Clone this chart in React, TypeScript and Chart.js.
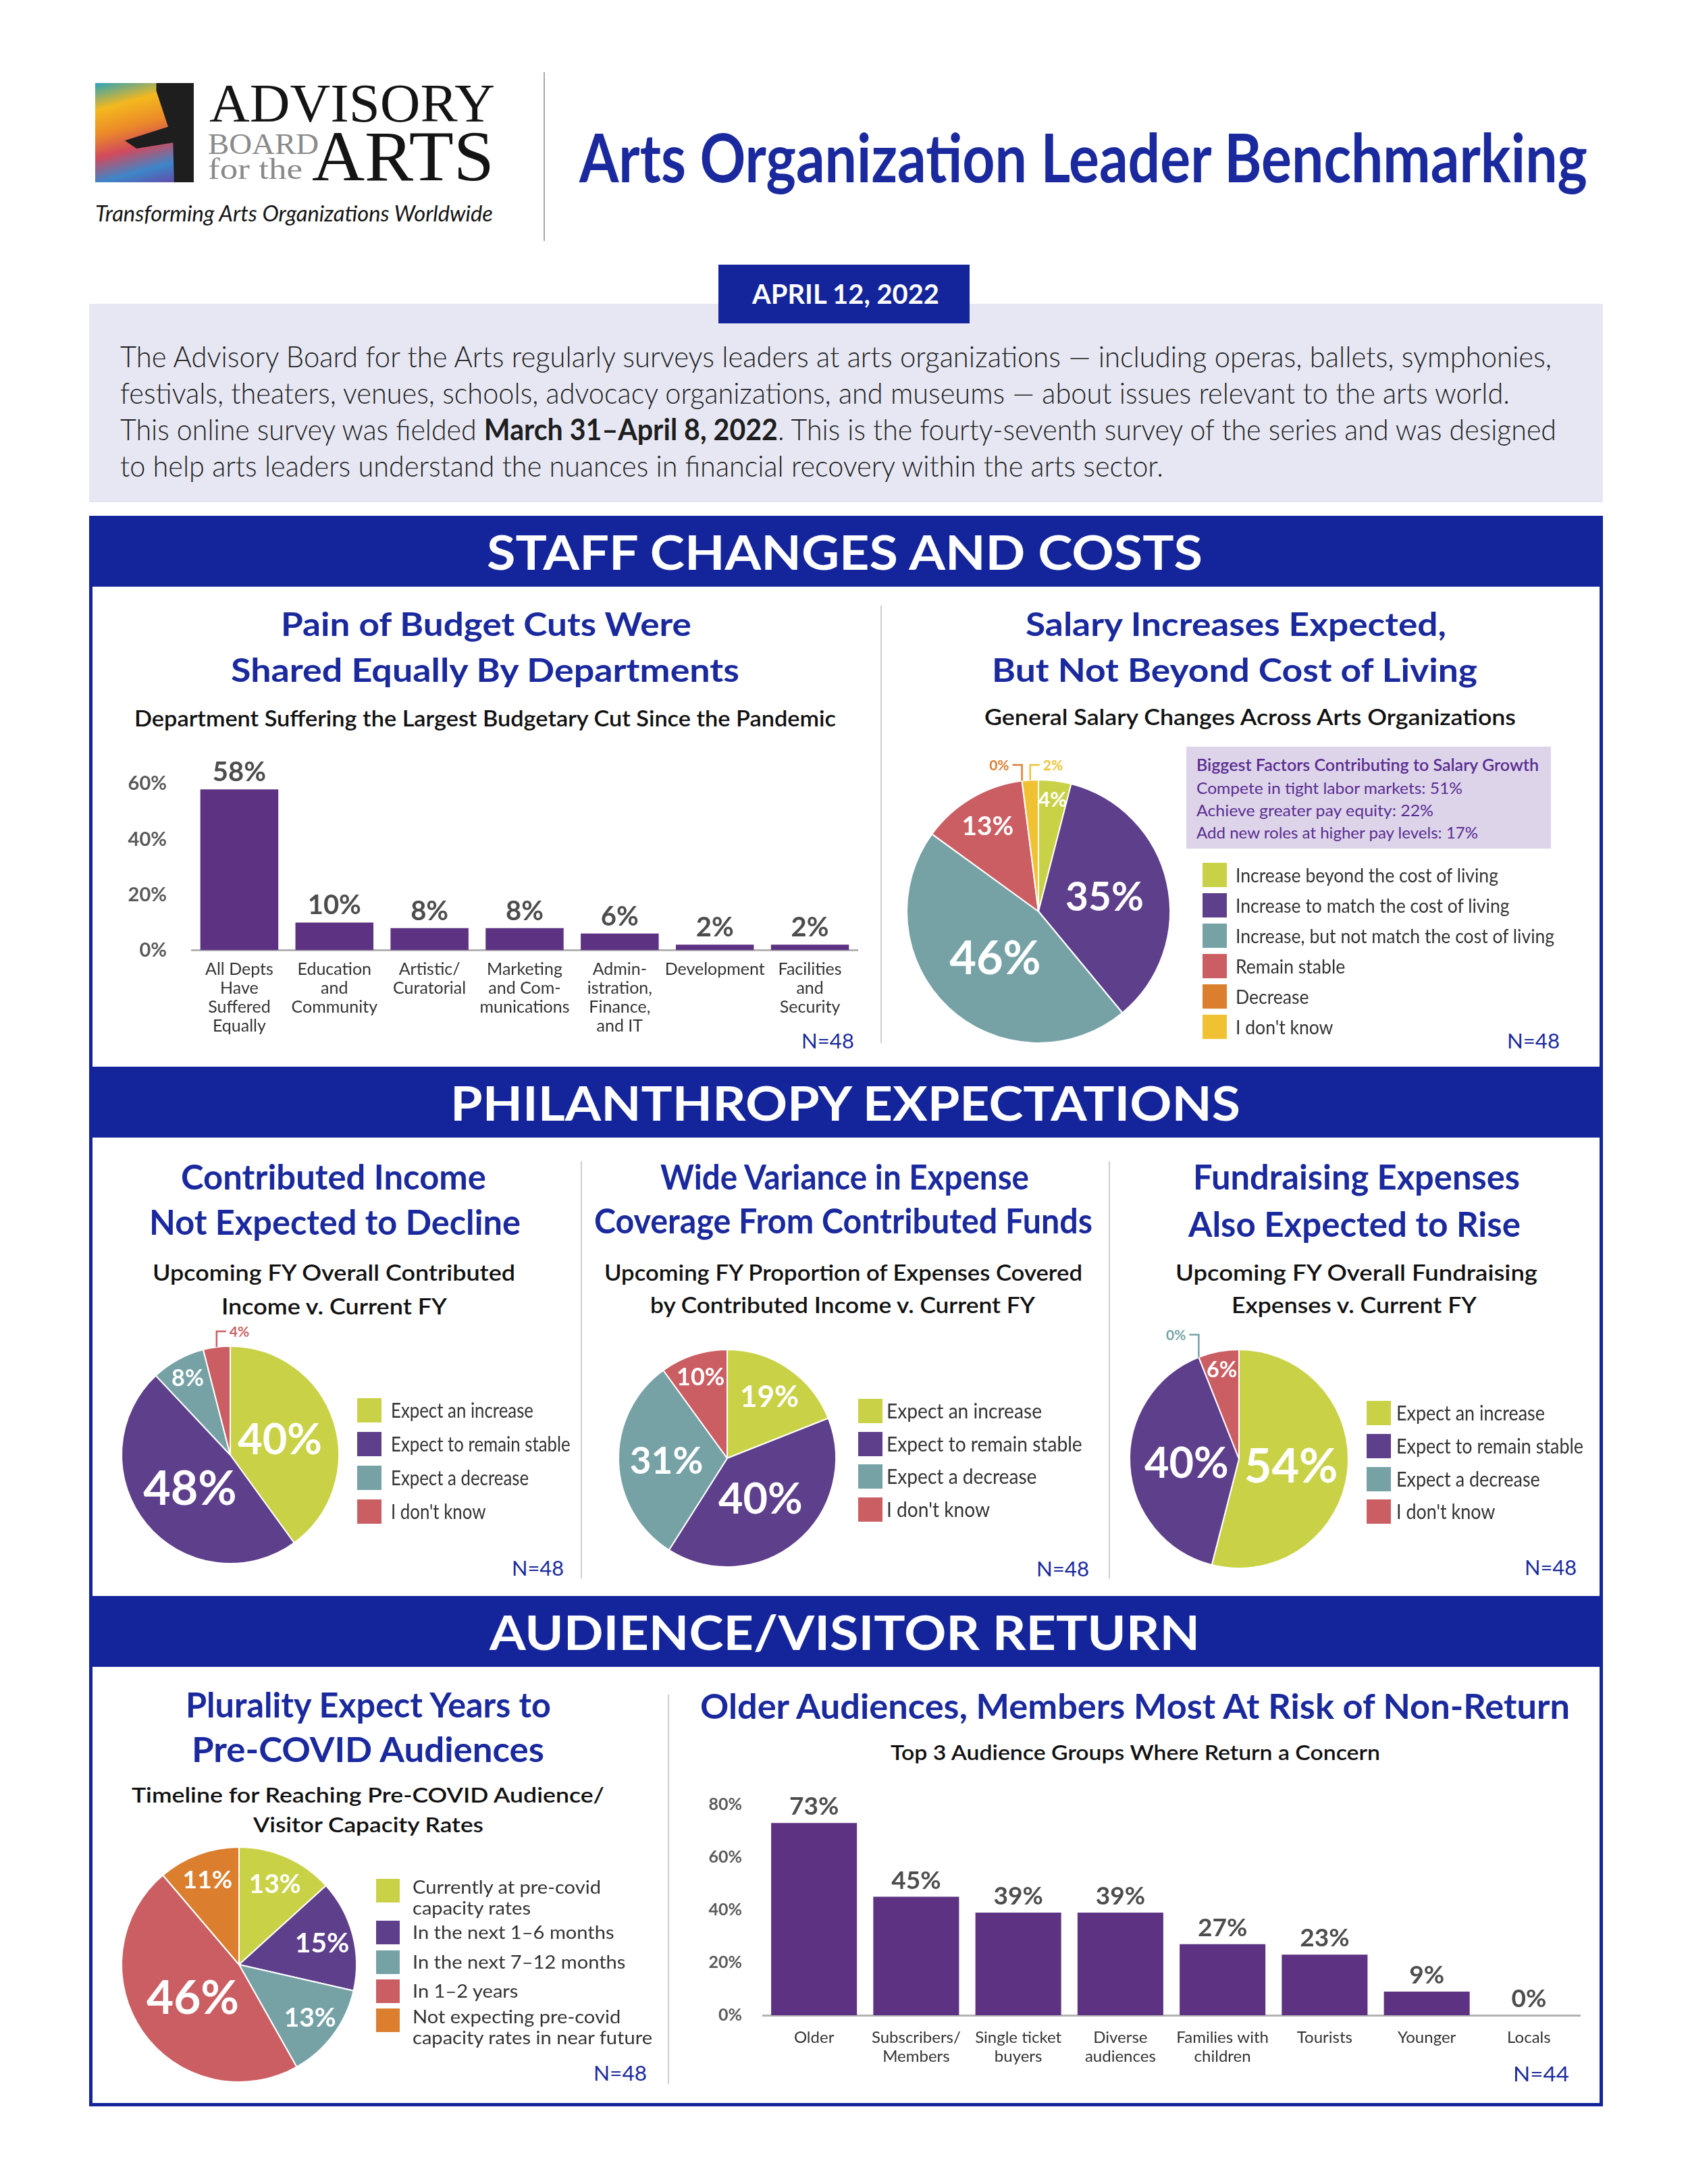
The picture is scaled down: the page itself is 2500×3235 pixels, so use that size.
import React, { useEffect, useLayoutEffect, useRef } from 'react';
import { Chart, registerables } from 'chart.js';

Chart.register(...registerables);

const SANS = 'Lato, "Noto Sans", "DejaVu Sans", sans-serif';
const SERIF = '"Liberation Serif", "DejaVu Serif", serif';

const NAVY = '#14259b';
const TITLE = '#1a2a9e';
const BARC = '#5e3283';
const LIME = '#c9d246';
const PURPLE = '#5e3f8b';
const TEAL = '#76a2a6';
const RED = '#cb5e63';
const ORANGE = '#db7f2e';
const YELLOW = '#f0c233';

// ---------------- data ----------------
const deptCategories = [
  ['All Depts', 'Have', 'Suffered', 'Equally'],
  ['Education', 'and', 'Community'],
  ['Artistic/', 'Curatorial'],
  ['Marketing', 'and Com-', 'munications'],
  ['Admin-', 'istration,', 'Finance,', 'and IT'],
  ['Development'],
  ['Facilities', 'and', 'Security'],
];
const deptValues = [58, 10, 8, 8, 6, 2, 2];
const deptTicks = [0, 20, 40, 60];

const salaryLabels = [
  'Increase beyond the cost of living',
  'Increase to match the cost of living',
  'Increase, but not match the cost of living',
  'Remain stable',
  'Decrease',
  "I don't know",
];
const salaryValues = [4, 35, 46, 13, 0, 2];
const salaryColors = [LIME, PURPLE, TEAL, RED, ORANGE, YELLOW];

const salaryFactorTitle = 'Biggest Factors Contributing to Salary Growth';
const salaryFactorLabels = ['Compete in tight labor markets', 'Achieve greater pay equity', 'Add new roles at higher pay levels'];
const salaryFactorValues = [51, 22, 17];

const expectLabels = ['Expect an increase', 'Expect to remain stable', 'Expect a decrease', "I don't know"];
const expectColors = [LIME, PURPLE, TEAL, RED];
const contributedValues = [40, 48, 8, 4];
const coverageValues = [19, 40, 31, 10];
const fundraisingValues = [54, 40, 0, 6];

const timelineLabels = [
  ['Currently at pre-covid', 'capacity rates'],
  ['In the next 1\u20136 months'],
  ['In the next 7\u201312 months'],
  ['In 1\u20132 years'],
  ['Not expecting pre-covid', 'capacity rates in near future'],
];
const timelineValues = [13, 15, 13, 46, 11];
const timelineColors = [LIME, PURPLE, TEAL, RED, ORANGE];

const audienceCategories = [
  ['Older'],
  ['Subscribers/', 'Members'],
  ['Single ticket', 'buyers'],
  ['Diverse', 'audiences'],
  ['Families with', 'children'],
  ['Tourists'],
  ['Younger'],
  ['Locals'],
];
const audienceValues = [73, 45, 39, 39, 27, 23, 9, 0];
const audienceTicks = [0, 20, 40, 60, 80];

// ---------------- plugins ----------------
const barValuePlugin = {
  id: 'barValues',
  afterDatasetsDraw(chart: any, _a: any, opts: any) {
    const ctx = chart.ctx;
    const meta = chart.getDatasetMeta(0);
    const data = chart.data.datasets[0].data as number[];
    ctx.save();
    ctx.font = `700 ${opts.size}px ${SANS}`;
    ctx.fillStyle = opts.color || '#4d4d4d';
    ctx.textAlign = 'center';
    ctx.textBaseline = 'alphabetic';
    meta.data.forEach((el: any, i: number) => {
      ctx.fillText(`${data[i]}%`, el.x, el.y - (opts.gap || 12));
    });
    ctx.restore();
  },
};

const pieLabelPlugin = {
  id: 'pieLabels',
  afterDatasetsDraw(chart: any, _a: any, opts: any) {
    const ctx = chart.ctx;
    const ds = chart.data.datasets[0];
    const vals = ds.data as number[];
    const total = vals.reduce((a, b) => a + b, 0);
    const meta = chart.getDatasetMeta(0);
    const outside = opts.outside || {};
    ctx.save();
    meta.data.forEach((arc: any, i: number) => {
      const p = arc.getProps(['x', 'y', 'startAngle', 'endAngle', 'outerRadius'], true);
      const mid = (p.startAngle + p.endAngle) / 2;
      const v = vals[i];
      const text = `${v}%`;
      const side = outside[i];
      const col = ds.backgroundColor[i];
      if (side) {
        const ex = p.x + Math.cos(mid) * p.outerRadius;
        const ey = p.y + Math.sin(mid) * p.outerRadius;
        const ty = p.y - p.outerRadius - 22;
        const dir = side === 'left' ? -1 : 1;
        const hx = ex + dir * 14;
        ctx.strokeStyle = col;
        ctx.lineWidth = 2.5;
        ctx.beginPath();
        ctx.moveTo(ex, ey);
        ctx.lineTo(ex, ty);
        ctx.lineTo(hx, ty);
        ctx.stroke();
        const fs = 21;
        ctx.font = `700 ${fs}px ${SANS}`;
        ctx.fillStyle = col;
        ctx.textAlign = side === 'left' ? 'right' : 'left';
        ctx.textBaseline = 'alphabetic';
        ctx.fillText(text, hx + dir * 5, ty + 0.36 * fs);
      } else {
        const pct = (v / total) * 100;
        const f = Math.min(0.9, Math.max(0.48, 0.9 - 0.011 * pct));
        const size = Math.min(70, 27 + 0.9 * pct);
        const lx = p.x + Math.cos(mid) * p.outerRadius * f;
        const ly = p.y + Math.sin(mid) * p.outerRadius * f;
        ctx.font = `700 ${size}px ${SANS}`;
        ctx.fillStyle = '#ffffff';
        ctx.textAlign = 'center';
        ctx.textBaseline = 'alphabetic';
        ctx.fillText(text, lx, ly + 0.36 * size);
      }
    });
    ctx.restore();
  },
};

// ---------------- components ----------------
type TP = {
  x: number; y: number; w?: number; size: number; weight?: number; color?: string;
  family?: string; italic?: boolean; children: React.ReactNode;
};
function T({ x, y, w, size, weight = 400, color = '#1e1e1e', family = SANS, italic = false, children }: TP) {
  const ref = useRef<HTMLSpanElement>(null);
  useLayoutEffect(() => {
    const el = ref.current;
    if (!el || !w) return;
    const fit = () => {
      el.style.transform = 'none';
      const nat = el.getBoundingClientRect().width;
      if (nat > 0) el.style.transform = `scaleX(${w / nat})`;
    };
    fit();
    (document as any).fonts?.ready?.then(fit);
  }, [w]);
  const asc = family === SERIF ? 0.8375 : 0.887;
  return (
    <span
      ref={ref}
      style={{
        position: 'absolute', left: x, top: y - asc * size, fontSize: size, lineHeight: `${size}px`,
        fontFamily: family, fontWeight: weight, fontStyle: italic ? 'italic' : 'normal', color,
        whiteSpace: 'nowrap', transformOrigin: '0 0', display: 'block',
      }}
    >
      {children}
    </span>
  );
}

type LP = {
  labels: (string | string[])[]; colors: string[]; sqX: number; sq: number; centers: number[];
  textX: number; size: number; w0: number; lineGap?: number;
};
function Legend({ labels, colors, sqX, sq, centers, textX, size, w0, lineGap = 0 }: LP) {
  const refs = useRef<(HTMLSpanElement | null)[]>([]);
  useLayoutEffect(() => {
    const fit = () => {
      const els = refs.current.filter(Boolean) as HTMLSpanElement[];
      if (!els.length) return;
      els.forEach((e) => (e.style.transform = 'none'));
      const nat = els[0].getBoundingClientRect().width;
      const s = nat > 0 ? w0 / nat : 1;
      els.forEach((e) => (e.style.transform = `scaleX(${s})`));
    };
    fit();
    (document as any).fonts?.ready?.then(fit);
  }, []);
  let k = 0;
  const out: React.ReactNode[] = [];
  labels.forEach((lab, i) => {
    const lines = Array.isArray(lab) ? lab : [lab];
    const c = centers[i];
    out.push(
      <div key={`sq${i}`} style={{ position: 'absolute', left: sqX, top: c - sq / 2, width: sq, height: sq, background: colors[i] }} />
    );
    lines.forEach((ln, j) => {
      const base = lines.length === 1 ? c + 0.37 * size : c - sq / 2 + 0.82 * size + j * lineGap;
      const idx = k++;
      out.push(
        <span
          key={`t${i}_${j}`}
          ref={(el) => { refs.current[idx] = el; }}
          style={{
            position: 'absolute', left: textX, top: base - 0.887 * size, fontSize: size, lineHeight: `${size}px`,
            fontFamily: SANS, fontWeight: 400, color: '#333', whiteSpace: 'nowrap', transformOrigin: '0 0', display: 'block',
          }}
        >
          {ln}
        </span>
      );
    });
  });
  return <>{out}</>;
}

type BP = {
  left: number; top: number; width: number; height: number; categories: string[][]; values: number[];
  ticks: number[]; max: number; padTop: number; padRight: number; yW: number; xH: number;
  yTickFont: number; yTickPad: number; xFont: number; xLine: number; xPad: number; pct: number; valSize: number;
};
function BarChart(p: BP) {
  const ref = useRef<HTMLCanvasElement>(null);
  useEffect(() => {
    const chart = new Chart(ref.current as HTMLCanvasElement, {
      type: 'bar',
      data: {
        labels: p.categories,
        datasets: [{ data: p.values, backgroundColor: BARC, borderWidth: 0, categoryPercentage: p.pct, barPercentage: 1 }],
      },
      options: {
        responsive: false,
        animation: false,
        layout: { padding: { top: p.padTop, right: p.padRight, left: 0, bottom: 0 } },
        plugins: {
          legend: { display: false },
          tooltip: { enabled: false },
          barValues: { size: p.valSize, gap: 12, color: '#4d4d4d' },
        } as any,
        scales: {
          x: {
            grid: { display: false, drawTicks: false },
            border: { display: true, color: '#b3b3b3', width: 3 },
            ticks: {
              color: '#333',
              font: { family: SANS, size: p.xFont, weight: 400 as any, lineHeight: p.xLine / p.xFont },
              padding: p.xPad, maxRotation: 0, minRotation: 0, autoSkip: false,
            },
            afterFit: (s: any) => { s.height = p.xH; },
          },
          y: {
            min: 0,
            max: p.max,
            grace: 0,
            grid: { display: false, drawTicks: false },
            border: { display: false },
            ticks: {
              stepSize: 10,
              color: '#5a5a5a',
              font: { family: SANS, size: p.yTickFont, weight: 700 as any },
              padding: p.yTickPad,
              callback: (v: any) => `${v}%`,
            },
            afterBuildTicks: (s: any) => { s.ticks = p.ticks.map((v) => ({ value: v })); },
            afterFit: (s: any) => { s.width = p.yW; s.paddingTop = 0; s.paddingBottom = 0; },
          },
        },
      },
      plugins: [barValuePlugin],
    });
    return () => chart.destroy();
  }, []);
  return (
    <canvas ref={ref} width={p.width} height={p.height}
      style={{ position: 'absolute', left: p.left, top: p.top, width: p.width, height: p.height }} />
  );
}

type PP = { cx: number; cy: number; r: number; values: number[]; colors: string[]; labels: any[]; outside?: Record<number, string> };
function PieChart({ cx, cy, r, values, colors, labels, outside = {} }: PP) {
  const ref = useRef<HTMLCanvasElement>(null);
  const S = 2 * r + 200;
  useEffect(() => {
    const chart = new Chart(ref.current as HTMLCanvasElement, {
      type: 'pie',
      data: {
        labels,
        datasets: [{ data: values, backgroundColor: colors, borderColor: '#ffffff', borderWidth: 2, radius: r, hoverOffset: 0 } as any],
      },
      options: {
        responsive: false,
        animation: false,
        layout: { padding: 0 },
        plugins: { legend: { display: false }, tooltip: { enabled: false }, pieLabels: { outside } } as any,
      },
      plugins: [pieLabelPlugin],
    });
    return () => chart.destroy();
  }, []);
  return (
    <canvas ref={ref} width={S} height={S}
      style={{ position: 'absolute', left: cx - S / 2, top: cy - S / 2, width: S, height: S }} />
  );
}

function VLine({ x, y1, y2 }: { x: number; y1: number; y2: number }) {
  return <div style={{ position: 'absolute', left: x - 1, top: y1, width: 2, height: y2 - y1, background: '#cfcfcf' }} />;
}

function Band({ top, x, w, text }: { top: number; x: number; w: number; text: string }) {
  return (
    <>
      <div style={{ position: 'absolute', left: 132, top, width: 2242, height: 105, background: NAVY }} />
      <T x={x} y={top + 80} w={w} size={70} weight={700} color="#ffffff">{text}</T>
    </>
  );
}

export default function App() {
  return (
    <div style={{ position: 'absolute', left: 0, top: 0, width: 2500, height: 3235, background: '#ffffff', overflow: 'hidden', fontFamily: SANS }}>
      {/* ---------- header ---------- */}
      <div style={{ position: 'absolute', left: 141, top: 123, width: 146, height: 147,
        background: 'linear-gradient(165deg, #2aa3b8 0%, #f4b81e 22%, #eb8a28 42%, #d24a5c 60%, #3d86c9 80%, #6a3ea2 100%)' }} />
      <div style={{ position: 'absolute', left: 141, top: 123, width: 146, height: 147, background: '#1e1e1e',
        clipPath: 'polygon(62% 0, 100% 0, 100% 100%, 80% 100%, 79% 60%, 42% 66%, 30% 58%, 74% 44%, 62% 8%)' }} />
      <T x={310} y={180} w={423} size={80} family={SERIF} color="#141414">ADVISORY</T>
      <T x={308} y={229} w={164} size={45} family={SERIF} color="#8a8a8a">BOARD</T>
      <T x={308} y={266} w={140} size={45} family={SERIF} color="#8a8a8a">for the</T>
      <T x={462} y={268} w={270} size={106} family={SERIF} color="#141414">ARTS</T>
      <T x={141} y={328} w={589} size={32} italic color="#141414">Transforming Arts Organizations Worldwide</T>
      <div style={{ position: 'absolute', left: 805, top: 107, width: 2, height: 250, background: '#a8a8a8' }} />
      <T x={858} y={270} w={1493} size={100} weight={700} color={TITLE}>Arts Organization Leader Benchmarking</T>

      {/* ---------- intro ---------- */}
      <div style={{ position: 'absolute', left: 132, top: 450, width: 2242, height: 294, background: '#e6e7f3' }} />
      <div style={{ position: 'absolute', left: 1064, top: 392, width: 372, height: 87, background: NAVY }} />
      <T x={1114} y={450} w={277} size={40} weight={700} color="#ffffff">APRIL 12, 2022</T>
      <T x={178} y={544} w={2120} size={44} weight={300}>The Advisory Board for the Arts regularly surveys leaders at arts organizations — including operas, ballets, symphonies,</T>
      <T x={178} y={598} w={2058} size={44} weight={300}>festivals, theaters, venues, schools, advocacy organizations, and museums — about issues relevant to the arts world.</T>
      <T x={178} y={652} w={2127} size={44} weight={300}>This online survey was fielded <span style={{ fontWeight: 700 }}>March 31–April 8, 2022</span>. This is the fourty-seventh survey of the series and was designed</T>
      <T x={178} y={706} w={1545} size={44} weight={300}>to help arts leaders understand the nuances in financial recovery within the arts sector.</T>

      {/* ---------- frame & bands ---------- */}
      <div style={{ position: 'absolute', left: 132, top: 764, width: 2242, height: 2356, border: `5px solid ${NAVY}`, boxSizing: 'border-box' }} />
      <Band top={764} x={721} w={1060} text="STAFF CHANGES AND COSTS" />
      <Band top={1580} x={667} w={1170} text="PHILANTHROPY EXPECTATIONS" />
      <Band top={2364} x={725} w={1052} text="AUDIENCE/VISITOR RETURN" />

      <VLine x={1305} y1={897} y2={1545} />
      <VLine x={861} y1={1720} y2={2338} />
      <VLine x={1643} y1={1720} y2={2338} />
      <VLine x={990} y1={2510} y2={3087} />

      {/* ---------- section 1 left ---------- */}
      <T x={416} y={943} w={608} size={48} weight={700} color={TITLE}>Pain of Budget Cuts Were</T>
      <T x={342} y={1011} w={753} size={48} weight={700} color={TITLE}>Shared Equally By Departments</T>
      <T x={199} y={1076} w={1039} size={32} weight={600} color="#111">Department Suffering the Largest Budgetary Cut Since the Pandemic</T>
      <BarChart left={170} top={1100} width={1110} height={470} categories={deptCategories} values={deptValues}
        ticks={deptTicks} max={70} padTop={20} padRight={10} yW={114} xH={162.5} yTickFont={29} yTickPad={37}
        xFont={25} xLine={28} xPad={14} pct={0.82} valSize={40} />
      <T x={1187} y={1553} w={78} size={31} color={TITLE}>N=48</T>

      {/* ---------- section 1 right ---------- */}
      <T x={1519} y={943} w={623} size={48} weight={700} color={TITLE}>Salary Increases Expected,</T>
      <T x={1469} y={1011} w={719} size={48} weight={700} color={TITLE}>But Not Beyond Cost of Living</T>
      <T x={1458} y={1074} w={787} size={32} weight={600} color="#111">General Salary Changes Across Arts Organizations</T>
      <PieChart cx={1538} cy={1350} r={195} values={salaryValues} colors={salaryColors} labels={salaryLabels} outside={{ 4: 'left', 5: 'right' }} />
      <div style={{ position: 'absolute', left: 1757, top: 1106, width: 540, height: 151, background: '#ddd4ea' }} />
      <T x={1772} y={1142} w={507} size={24} weight={600} color="#5a2d91">{salaryFactorTitle}</T>
      <T x={1772} y={1176} w={394} size={24} color="#5a2d91">{`${salaryFactorLabels[0]}: ${salaryFactorValues[0]}%`}</T>
      <T x={1772} y={1209} w={351} size={24} color="#5a2d91">{`${salaryFactorLabels[1]}: ${salaryFactorValues[1]}%`}</T>
      <T x={1772} y={1242} w={417} size={24} color="#5a2d91">{`${salaryFactorLabels[2]}: ${salaryFactorValues[2]}%`}</T>
      <Legend labels={salaryLabels} colors={salaryColors} sqX={1781} sq={36} centers={[1296, 1341, 1386, 1431, 1476, 1521]}
        textX={1830} size={29} w0={389} />
      <T x={2232} y={1553} w={78} size={31} color={TITLE}>N=48</T>

      {/* ---------- section 2 ---------- */}
      <T x={268} y={1762} w={452} size={52} weight={700} color={TITLE}>Contributed Income</T>
      <T x={221} y={1829} w={550} size={52} weight={700} color={TITLE}>Not Expected to Decline</T>
      <T x={226} y={1897} w={537} size={33} weight={600} color="#111">Upcoming FY Overall Contributed</T>
      <T x={328} y={1947} w={334} size={33} weight={600} color="#111">Income v. Current FY</T>
      <PieChart cx={341} cy={2155} r={161} values={contributedValues} colors={expectColors} labels={expectLabels} outside={{ 3: 'right' }} />
      <Legend labels={expectLabels} colors={expectColors} sqX={529} sq={36} centers={[2089, 2139, 2189, 2239]} textX={579} size={30} w0={211} />
      <T x={758} y={2334} w={77} size={31} color={TITLE}>N=48</T>

      <T x={978} y={1762} w={546} size={52} weight={700} color={TITLE}>Wide Variance in Expense</T>
      <T x={880} y={1827} w={738} size={52} weight={700} color={TITLE}>Coverage From Contributed Funds</T>
      <T x={895} y={1897} w={708} size={33} weight={600} color="#111">Upcoming FY Proportion of Expenses Covered</T>
      <T x={963} y={1945} w={570} size={33} weight={600} color="#111">by Contributed Income v. Current FY</T>
      <PieChart cx={1077} cy={2160} r={161} values={coverageValues} colors={expectColors} labels={expectLabels} />
      <Legend labels={expectLabels} colors={expectColors} sqX={1271} sq={36} centers={[2090, 2139, 2187, 2236]} textX={1313} size={30} w0={230} />
      <T x={1535} y={2335} w={78} size={31} color={TITLE}>N=48</T>

      <T x={1767} y={1762} w={484} size={52} weight={700} color={TITLE}>Fundraising Expenses</T>
      <T x={1760} y={1832} w={492} size={52} weight={700} color={TITLE}>Also Expected to Rise</T>
      <T x={1741} y={1897} w={536} size={33} weight={600} color="#111">Upcoming FY Overall Fundraising</T>
      <T x={1824} y={1945} w={363} size={33} weight={600} color="#111">Expenses v. Current FY</T>
      <PieChart cx={1835} cy={2161} r={162} values={fundraisingValues} colors={expectColors} labels={expectLabels} outside={{ 2: 'left' }} />
      <Legend labels={expectLabels} colors={expectColors} sqX={2024} sq={36} centers={[2093, 2142, 2191, 2239]} textX={2068} size={30} w0={220} />
      <T x={2258} y={2333} w={77} size={31} color={TITLE}>N=48</T>

      {/* ---------- section 3 ---------- */}
      <T x={275} y={2544} w={541} size={52} weight={700} color={TITLE}>Plurality Expect Years to</T>
      <T x={284} y={2610} w={522} size={52} weight={700} color={TITLE}>Pre-COVID Audiences</T>
      <T x={195} y={2670} w={700} size={31} weight={600} color="#111">Timeline for Reaching Pre-COVID Audience/</T>
      <T x={375} y={2714} w={341} size={31} weight={600} color="#111">Visitor Capacity Rates</T>
      <PieChart cx={354} cy={2910} r={174} values={timelineValues} colors={timelineColors} labels={timelineLabels} />
      <Legend labels={timelineLabels} colors={timelineColors} sqX={557} sq={35} centers={[2800, 2862, 2906, 2949, 2992]}
        textX={611} size={27} w0={279} lineGap={31} />
      <T x={879} y={3082} w={79} size={31} color={TITLE}>N=48</T>

      <T x={1037} y={2546} w={1288} size={52} weight={700} color={TITLE}>Older Audiences, Members Most At Risk of Non-Return</T>
      <T x={1319} y={2607} w={725} size={30} weight={600} color="#111">Top 3 Audience Groups Where Return a Concern</T>
      <BarChart left={1010} top={2640} width={1340} height={460} categories={audienceCategories} values={audienceValues}
        ticks={audienceTicks} max={80} padTop={33} padRight={10} yW={120} xH={115} yTickFont={25} yTickPad={31}
        xFont={24} xLine={28} xPad={19} pct={0.84} valSize={37} />
      <T x={2241} y={3083} w={83} size={31} color={TITLE}>N=44</T>
    </div>
  );
}
